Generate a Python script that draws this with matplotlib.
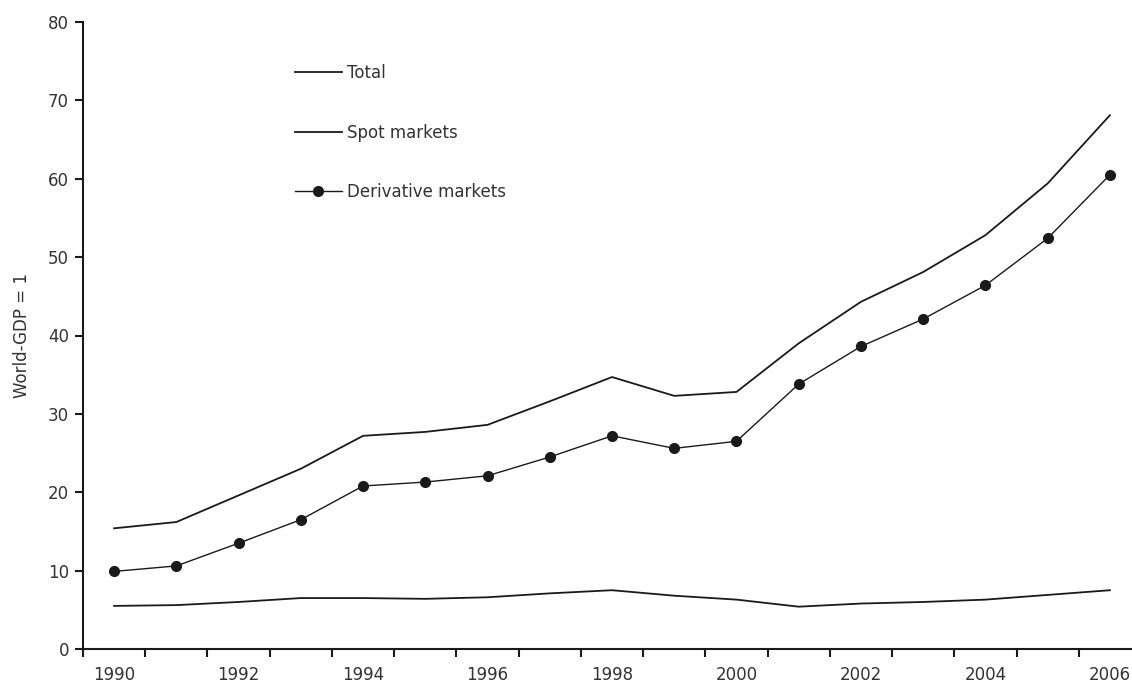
import numpy as np
import matplotlib
matplotlib.use("Agg")
import matplotlib.pyplot as plt

# data (multiples of world GDP)
years = list(range(1990, 2007))
total = [15.4, 16.2, 19.6, 23.0, 27.2, 27.7, 28.6, 31.6, 34.7, 32.3,
         32.8, 39.0, 44.3, 48.1, 52.8, 59.4, 68.1]
spot = [5.5, 5.6, 6.0, 6.5, 6.5, 6.4, 6.6, 7.1, 7.5, 6.8,
        6.3, 5.4, 5.8, 6.0, 6.3, 6.9, 7.5]
derivative = [9.9, 10.6, 13.5, 16.5, 20.8, 21.3, 22.1, 24.5, 27.2, 25.6,
              26.5, 33.8, 38.6, 42.1, 46.4, 52.4, 60.5]
year_labels = [str(y) if y % 2 == 0 else "" for y in years]

plt.rcParams["font.family"] = ["DejaVu Sans"]
text_color = "#333333"
line_color = "#1a1a1a"

W, H = 1132, 691
fig = plt.figure(figsize=(W / 100, H / 100), dpi=100)
left, right, bottom, top = 83, 1141, 649, 22
ax = fig.add_axes([left / W, (H - bottom) / H, (right - left) / W, (bottom - top) / H])

x = np.arange(len(years))
ax.plot(x, total, color=line_color, lw=1.3, label="Total")
ax.plot(x, spot, color=line_color, lw=1.3, label="Spot markets")
ax.plot(x, derivative, color=line_color, lw=1.0, marker="o", markersize=7,
        label="Derivative markets")

ax.set_xlim(-0.5, len(years) - 0.5)
ax.set_ylim(0, 80)
ax.set_yticks(range(0, 81, 10))

# tick marks between years, labels centred on the years
ax.set_xticks(np.arange(-0.5, len(years), 1.0))
ax.set_xticklabels([])
ax.set_xticks(x, minor=True)
ax.set_xticklabels(year_labels, minor=True)
ax.tick_params(axis="x", which="major", direction="out", length=6, width=1.5, color=line_color)
ax.tick_params(axis="x", which="minor", length=0, pad=12, labelsize=12, labelcolor=text_color)
ax.tick_params(axis="y", direction="out", length=6, width=1.5, color=line_color,
               labelsize=12, labelcolor=text_color, pad=4)

for s in ["top", "right"]:
    ax.spines[s].set_visible(False)
for s in ["left", "bottom"]:
    ax.spines[s].set_linewidth(1.5)
    ax.spines[s].set_color(line_color)

ax.set_ylabel("World-GDP = 1", fontsize=12, color=text_color)
ax.yaxis.set_label_coords(-(left - 31) / (right - left), 0.5)

ax.legend(loc="upper left", bbox_to_anchor=((295 - left) / (right - left), (bottom - 64) / (bottom - top)),
          frameon=False, fontsize=12, handlelength=2.8, handletextpad=0.3,
          labelspacing=2.5, borderaxespad=0, borderpad=0, labelcolor=text_color)

fig.savefig("out.png", dpi=100)
